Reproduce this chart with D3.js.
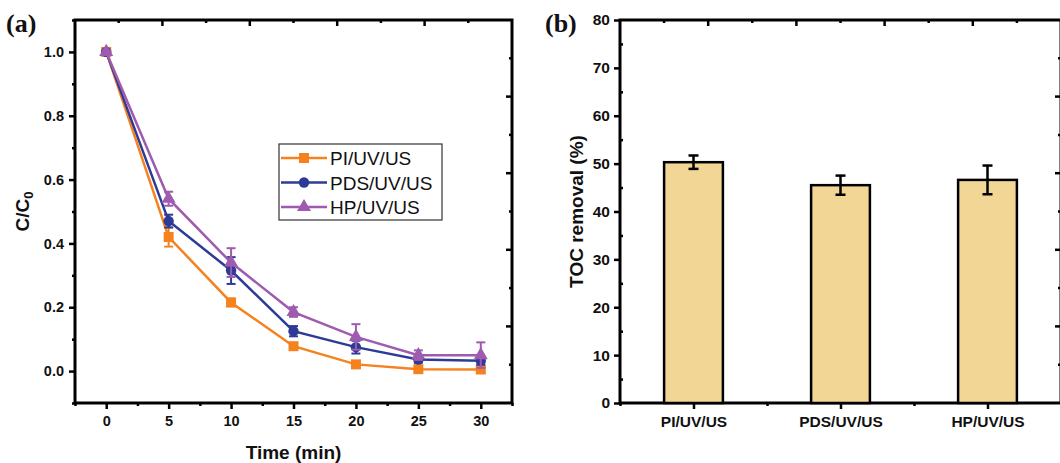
<!DOCTYPE html>
<html>
<head>
<meta charset="utf-8">
<script src="https://cdn.jsdelivr.net/npm/d3@7"></script>
<style>
  body { margin: 0; background: #fff; }
  svg { display: block; }
  .tick-label { font-family: "Liberation Sans", Arial, sans-serif; font-weight: bold; font-size: 14.5px; fill: #111; }
  #panelB .tick-label { font-size: 15.5px; }
  .axis-title { font-family: "Liberation Sans", Arial, sans-serif; font-weight: bold; font-size: 19px; fill: #111; }
  .panel-tag { font-family: "Liberation Serif", "Times New Roman", serif; font-weight: bold; font-size: 26px; fill: #111; }
  .legend-text { font-family: "Liberation Sans", Arial, sans-serif; font-size: 19px; fill: #111; }
</style>
</head>
<body>
<svg id="chart" width="1060" height="463"></svg>
<script>
// ---- data: panel (a) ----
const times = [0, 5, 10, 15, 20, 25, 30];
const piValues  = [1.0, 0.42, 0.215, 0.078, 0.021, 0.006, 0.005];
const piErr     = [0.005, 0.03, 0.012, 0.01, 0.008, 0.006, 0.006];
const pdsValues = [1.0, 0.47, 0.315, 0.125, 0.075, 0.036, 0.032];
const pdsErr    = [0.005, 0.02, 0.042, 0.016, 0.02, 0.01, 0.012];
const hpValues  = [1.0, 0.54, 0.34, 0.185, 0.107, 0.05, 0.05];
const hpErr     = [0.005, 0.022, 0.045, 0.015, 0.04, 0.015, 0.04];
const seriesNames = ['PI/UV/US', 'PDS/UV/US', 'HP/UV/US'];
const seriesColors = ['#f5821f', '#2e3b96', '#9e5baf'];
const yTicksA = [0.0, 0.2, 0.4, 0.6, 0.8, 1.0];
const xTicksA = [0, 5, 10, 15, 20, 25, 30];

// ---- data: panel (b) ----
const processes = ['PI/UV/US', 'PDS/UV/US', 'HP/UV/US'];
const tocRemoval = [50.3, 45.5, 46.6];
const tocErr = [1.4, 2.0, 3.0];
const yTicksB = [0, 10, 20, 30, 40, 50, 60, 70, 80];

const svg = d3.select('#chart');

// common frame + decorative opposite-side ticks (Origin style)
function frame(g, w, h) {
    const fx = d3.scaleLinear().domain([0, 1]).range([0, w]);
    const fy = d3.scaleLinear().domain([0, 1]).range([0, h]);
    const fr = d3.range(1, 10).map(d => d / 10);
    g.append('g').selectAll('line').data(fr).enter().append('line')
        .attr('x1', d => fx(d)).attr('x2', d => fx(d))
        .attr('y1', 0).attr('y2', (d, i) => i % 2 ? 6 : 3)
        .attr('stroke', '#000').attr('stroke-width', 2.5);
    g.append('g').selectAll('line').data(fr).enter().append('line')
        .attr('y1', d => fy(d)).attr('y2', d => fy(d))
        .attr('x1', w).attr('x2', (d, i) => w - (i % 2 ? 6 : 3))
        .attr('stroke', '#000').attr('stroke-width', 2.5);
    g.append('rect').attr('width', w).attr('height', h)
        .attr('fill', 'none').attr('stroke', '#000').attr('stroke-width', 3);
}

// ================= panel (a) =================
const A = { left: 75, top: 20, width: 437, height: 383 };
const gA = svg.append('g').attr('id', 'panelA').attr('transform', `translate(${A.left},${A.top})`);

const xA = d3.scaleLinear().domain([-2.5, 32.5]).range([0, A.width]);
const yA = d3.scaleLinear().domain([-0.1, 1.1]).range([A.height, 0]);

// axes
gA.append('g').attr('transform', `translate(0,${A.height})`)
    .call(d3.axisBottom(xA).tickValues(xTicksA).tickSize(6).tickPadding(7).tickFormat(d3.format('d')));
gA.append('g').attr('transform', `translate(0,${A.height})`)
    .call(d3.axisBottom(xA).tickValues(d3.range(-2.5, 33, 5)).tickSize(3).tickFormat(''));
gA.append('g')
    .call(d3.axisLeft(yA).tickValues(yTicksA).tickSize(6).tickPadding(5).tickFormat(d3.format('.1f')));
gA.append('g')
    .call(d3.axisLeft(yA).tickValues([-0.1, 0.1, 0.3, 0.5, 0.7, 0.9, 1.1]).tickSize(3).tickFormat(''));

frame(gA, A.width, A.height);

gA.selectAll('.domain').remove();
gA.selectAll('.tick line').attr('stroke', '#000').attr('stroke-width', 2.5);
gA.selectAll('.tick text').attr('class', 'tick-label').attr('font-size', null).attr('font-family', null);

// series
const seriesA = [
    { name: seriesNames[0], values: piValues, err: piErr, color: seriesColors[0], symbol: d3.symbolSquare, size: 100 },
    { name: seriesNames[1], values: pdsValues, err: pdsErr, color: seriesColors[1], symbol: d3.symbolCircle, size: 85 },
    { name: seriesNames[2], values: hpValues, err: hpErr, color: seriesColors[2], symbol: d3.symbolTriangle, size: 85 }
];

const line = d3.line().x(d => xA(d.t)).y(d => yA(d.v));

seriesA.forEach(function(s) {
    const pts = times.map((t, i) => ({ t: t, v: s.values[i], e: s.err[i] }));
    const sg = gA.append('g');
    sg.append('path').datum(pts).attr('d', line)
        .attr('fill', 'none').attr('stroke', s.color).attr('stroke-width', 2.5);
    // error bars
    const eb = sg.selectAll('.eb').data(pts).enter().append('g');
    eb.append('line')
        .attr('x1', d => xA(d.t)).attr('x2', d => xA(d.t))
        .attr('y1', d => yA(d.v - d.e)).attr('y2', d => yA(d.v + d.e))
        .attr('stroke', s.color).attr('stroke-width', 2);
    [-1, 1].forEach(function(sign) {
        eb.append('line')
            .attr('x1', d => xA(d.t) - 4.5).attr('x2', d => xA(d.t) + 4.5)
            .attr('y1', d => yA(d.v + sign * d.e)).attr('y2', d => yA(d.v + sign * d.e))
            .attr('stroke', s.color).attr('stroke-width', 2);
    });
    sg.selectAll('.pt').data(pts).enter().append('path')
        .attr('d', d3.symbol().type(s.symbol).size(s.size))
        .attr('transform', d => `translate(${xA(d.t)},${yA(d.v)})`)
        .attr('fill', s.color);
});

// legend
const leg = gA.append('g').attr('transform', 'translate(204,124)');
leg.append('rect').attr('width', 163).attr('height', 76)
    .attr('fill', '#fff').attr('stroke', '#333').attr('stroke-width', 1.2);
seriesA.forEach(function(s, i) {
    const ly = 14 + i * 24.5;
    leg.append('line').attr('x1', 2).attr('x2', 48).attr('y1', ly).attr('y2', ly)
        .attr('stroke', s.color).attr('stroke-width', 2.5);
    leg.append('path').attr('d', d3.symbol().type(s.symbol).size(s.size))
        .attr('transform', `translate(25,${ly})`).attr('fill', s.color);
    leg.append('text').attr('class', 'legend-text').attr('x', 51).attr('y', ly + 7).text(s.name);
});

// titles
svg.append('text').attr('class', 'axis-title').attr('text-anchor', 'middle')
    .attr('x', A.left + xA(15)).attr('y', 459).text('Time (min)');
const yt = svg.append('text').attr('class', 'axis-title').attr('text-anchor', 'middle')
    .attr('transform', `translate(29,${A.top + A.height / 2}) rotate(-90)`);
yt.append('tspan').text('C/C');
yt.append('tspan').attr('font-size', '13px').attr('dy', 4).text('0');
svg.append('text').attr('class', 'panel-tag').attr('x', 6).attr('y', 32).text('(a)');

// ================= panel (b) =================
const B = { left: 620, top: 20, width: 441, height: 383 };
const gB = svg.append('g').attr('id', 'panelB').attr('transform', `translate(${B.left},${B.top})`);

const xB = d3.scaleLinear().domain([0.5, 3.5]).range([0, B.width]);
const yB = d3.scaleLinear().domain([0, 80]).range([B.height, 0]);

gB.append('g').attr('transform', `translate(0,${B.height})`)
    .call(d3.axisBottom(xB).tickValues([1, 2, 3]).tickSize(6).tickPadding(7)
        .tickFormat(d => processes[d - 1]));
gB.append('g').attr('transform', `translate(0,${B.height})`)
    .call(d3.axisBottom(xB).tickValues([0.5, 1.5, 2.5]).tickSize(3).tickFormat(''));
gB.append('g')
    .call(d3.axisLeft(yB).tickValues(yTicksB).tickSize(6).tickPadding(4).tickFormat(d3.format('d')));
gB.append('g')
    .call(d3.axisLeft(yB).tickValues(d3.range(5, 80, 10)).tickSize(-3).tickFormat(''));

frame(gB, B.width, B.height);

gB.selectAll('.domain').remove();
gB.selectAll('.tick line').attr('stroke', '#000').attr('stroke-width', 2.5);
gB.selectAll('.tick text').attr('class', 'tick-label').attr('font-size', null).attr('font-family', null);

const barW = xB(1.4) - xB(1);
const bars = gB.append('g').selectAll('g').data(processes).enter().append('g');
bars.append('rect')
    .attr('x', (d, i) => xB(i + 1) - barW / 2).attr('width', barW)
    .attr('y', (d, i) => yB(tocRemoval[i])).attr('height', (d, i) => yB(0) - yB(tocRemoval[i]))
    .attr('fill', '#f1d696').attr('stroke', '#000').attr('stroke-width', 2.5);
bars.append('line')
    .attr('x1', (d, i) => xB(i + 1)).attr('x2', (d, i) => xB(i + 1))
    .attr('y1', (d, i) => yB(tocRemoval[i] - tocErr[i])).attr('y2', (d, i) => yB(tocRemoval[i] + tocErr[i]))
    .attr('stroke', '#000').attr('stroke-width', 2.5);
[-1, 1].forEach(function(sign) {
    bars.append('line')
        .attr('x1', (d, i) => xB(i + 1) - 5).attr('x2', (d, i) => xB(i + 1) + 5)
        .attr('y1', (d, i) => yB(tocRemoval[i] + sign * tocErr[i]))
        .attr('y2', (d, i) => yB(tocRemoval[i] + sign * tocErr[i]))
        .attr('stroke', '#000').attr('stroke-width', 2.5);
});

svg.append('text').attr('class', 'axis-title').attr('text-anchor', 'middle')
    .attr('transform', `translate(583,${B.top + B.height / 2}) rotate(-90)`).text('TOC removal (%)');
svg.append('text').attr('class', 'panel-tag').attr('x', 545).attr('y', 32).text('(b)');
</script>
</body>
</html>
